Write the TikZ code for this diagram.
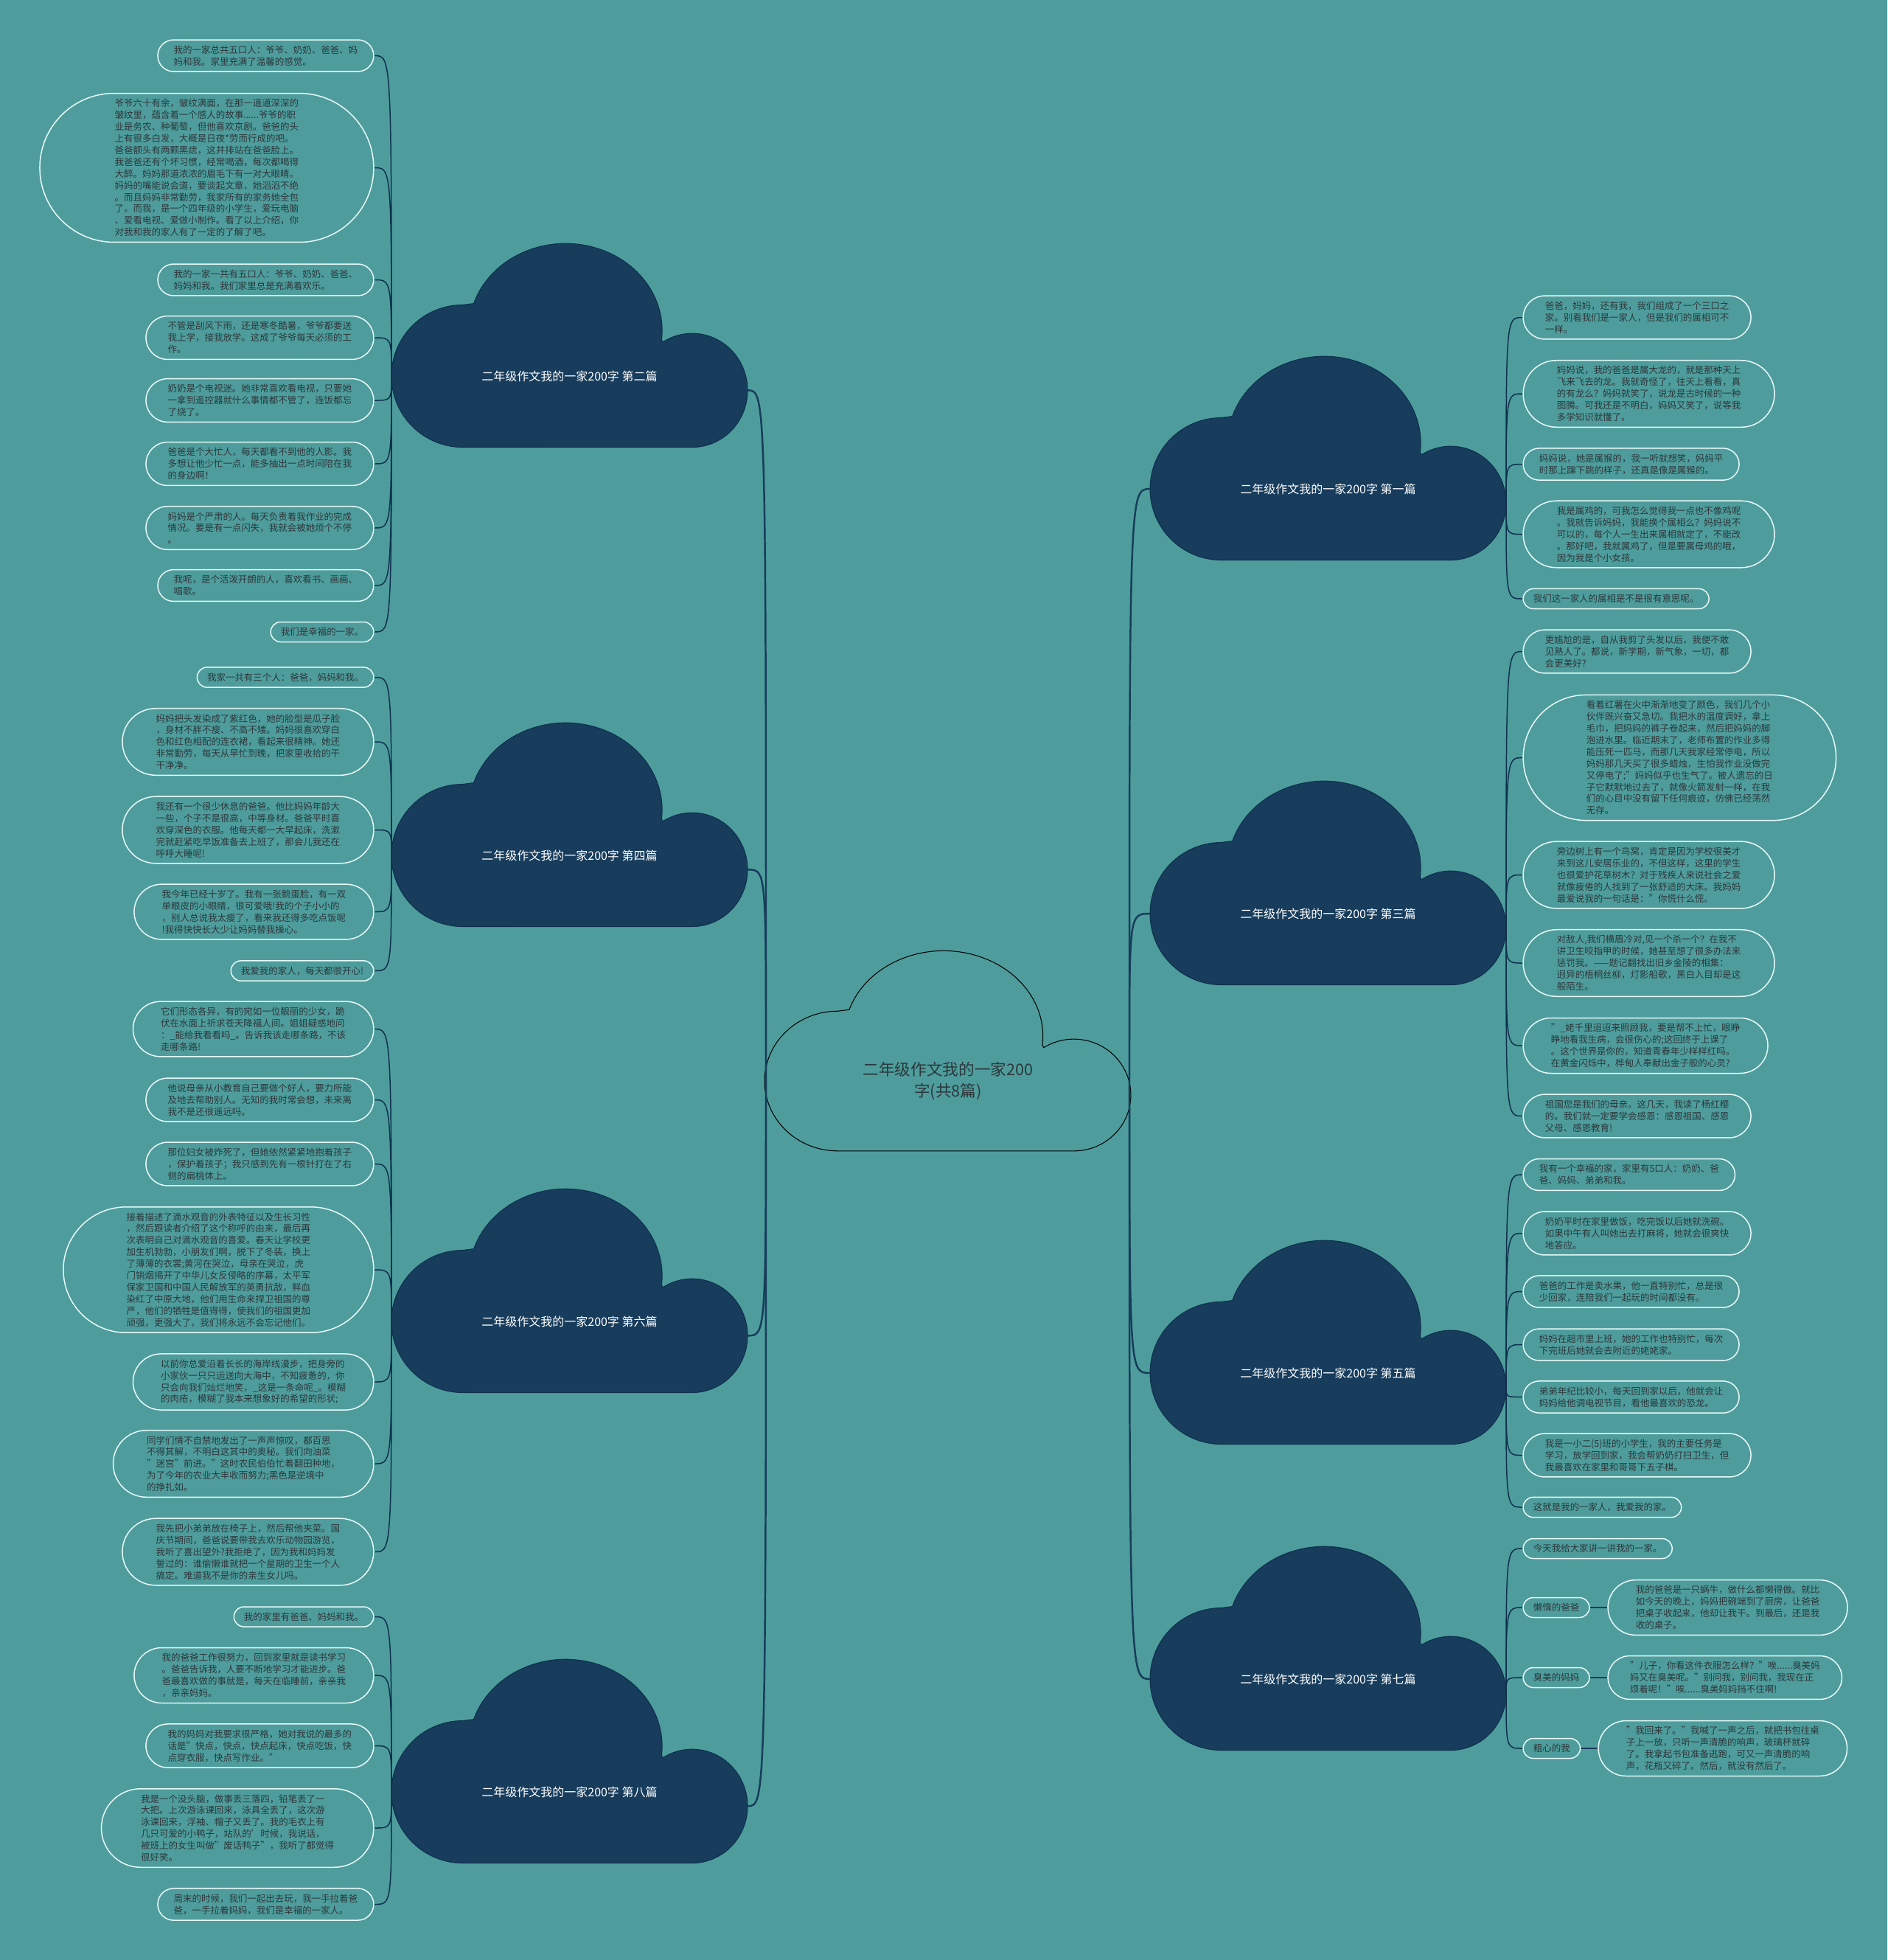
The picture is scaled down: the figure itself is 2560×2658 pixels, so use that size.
\documentclass[tikz,border=0pt]{standalone}
\usepackage{fontspec}
\setmainfont{Noto Sans CJK SC}
\usetikzlibrary{calc}
\definecolor{sea}{RGB}{78,157,156}
\definecolor{navy}{RGB}{23,60,92}
\definecolor{navyline}{RGB}{14,48,78}
\definecolor{ink}{RGB}{45,55,60}
\definecolor{rim}{RGB}{232,250,250}
\tikzset{
  puff/.pic={
    \path[pic actions] (-135,100) arc[start angle=90,end angle=270,x radius=90,y radius=100]
      -- (-121,-102) arc[start angle=198,end angle=366,radius=122]
      -- (117.9,-47.8) arc[start angle=238,end angle=450,x radius=70,y radius=80]
      -- cycle;
    \coordinate (-w) at (-225,0);
    \coordinate (-e) at (225,20);
  }
}
\begin{document}
\begin{tikzpicture}[x=0.02cm,y=-0.02cm,
  leaf/.style={rectangle,inner xsep={(8*#1+6.5)*0.02cm},inner ysep=0.17cm,align=left,text=ink,font=\fontsize{7.1pt}{9.05pt}\selectfont,
    path picture={\draw[draw=rim,line width=0.85pt] let \p1=(path picture bounding box.north west), \p2=(path picture bounding box.south east), \n1={(\y1-\y2)/2-0.45pt} in
      (\x1+\n1+0.45pt,\y1-0.45pt) arc[start angle=90,end angle=270,radius=\n1] -- (\x2-\n1-0.45pt,\y2+0.45pt) arc[start angle=-90,end angle=90,radius=\n1] -- cycle;}},
  lleaf/.style={leaf=#1,anchor=east},
  rleaf/.style={leaf=#1,anchor=west},
  dark/.style={fill=navy,draw=navyline,line width=0.6pt,xscale=1.0733,yscale=0.965},
  btext/.style={text=white,font=\fontsize{9.1pt}{11pt}\selectfont},
  twig/.style={draw=navyline,line width=0.85pt,to path={(\tikztostart) .. controls (\tikztostart |- \tikztotarget) .. (\tikztotarget)}},
  trunk/.style={twig,draw=navy,line width=1.4pt},
  stem/.style={draw=navy,line width=1.4pt}]
\fill[sea] (0,0) rectangle (2560,2658);
\useasboundingbox (0,0) rectangle (2560,2658);

\pic[draw=black,line width=0.6pt,xscale=1.104,yscale=0.948] (k0) at (1285.5,1466) {puff};
\node[text=ink,align=center,font=\fontsize{12.3pt}{16.4pt}\selectfont] (root) at (1286,1466) {二年级作文我的一家200\\字(共8篇)};
\coordinate (hubl) at (1039,1440);
\coordinate (hubr) at (1532,1440);

\pic[dark] (k2) at (772.5,510) {puff};
\node[btext] (b2) at (772.5,510) {二年级作文我的一家200字 第二篇};
\pic[dark] (k4) at (772.5,1160) {puff};
\node[btext] (b4) at (772.5,1160) {二年级作文我的一家200字 第四篇};
\pic[dark] (k6) at (772.5,1792) {puff};
\node[btext] (b6) at (772.5,1792) {二年级作文我的一家200字 第六篇};
\pic[dark] (k8) at (772.5,2430) {puff};
\node[btext] (b8) at (772.5,2430) {二年级作文我的一家200字 第八篇};

\pic[dark] (k1) at (1801.5,663) {puff};
\node[btext] (b1) at (1801.5,663) {二年级作文我的一家200字 第一篇};
\pic[dark] (k3) at (1801.5,1239) {puff};
\node[btext] (b3) at (1801.5,1239) {二年级作文我的一家200字 第三篇};
\pic[dark] (k5) at (1801.5,1862) {puff};
\node[btext] (b5) at (1801.5,1862) {二年级作文我的一家200字 第五篇};
\pic[dark] (k7) at (1801.5,2277) {puff};
\node[btext] (b7) at (1801.5,2277) {二年级作文我的一家200字 第七篇};

\node[lleaf=2] (l21) at (508,75.5) {我的一家总共五口人：爷爷、奶奶、爸爸、妈\\妈和我。家里充满了温馨的感觉。};
\node[lleaf=12] (l22) at (508,227.5) {爷爷六十有余，皱纹满面，在那一道道深深的\\皱纹里，蕴含着一个感人的故事......爷爷的职\\业是务农、种葡萄，但他喜欢京剧。爸爸的头\\上有很多白发，大概是日夜*劳而行成的吧。\\爸爸额头有两颗黑痣，这并排站在爸爸脸上。\\我爸爸还有个坏习惯，经常喝酒，每次都喝得\\大醉。妈妈那道浓浓的眉毛下有一对大眼睛。\\妈妈的嘴能说会道，要谈起文章，她滔滔不绝\\。而且妈妈非常勤劳，我家所有的家务她全包\\了。而我，是一个四年级的小学生，爱玩电脑\\、爱看电视、爱做小制作。看了以上介绍，你\\对我和我的家人有了一定的了解了吧。};
\node[lleaf=2] (l23) at (508,379.5) {我的一家一共有五口人：爷爷、奶奶、爸爸、\\妈妈和我。我们家里总是充满着欢乐。};
\node[lleaf=3] (l24) at (508,458) {不管是刮风下雨，还是寒冬酷暑，爷爷都要送\\我上学，接我放学。这成了爷爷每天必须的工\\作。};
\node[lleaf=3] (l25) at (508,543) {奶奶是个电视迷。她非常喜欢看电视，只要她\\一拿到遥控器就什么事情都不管了，连饭都忘\\了烧了。};
\node[lleaf=3] (l26) at (508,629) {爸爸是个大忙人，每天都看不到他的人影。我\\多想让他少忙一点，能多抽出一点时间陪在我\\的身边啊！};
\node[lleaf=3] (l27) at (508,716) {妈妈是个严肃的人。每天负责着我作业的完成\\情况。要是有一点闪失，我就会被她烦个不停\\。};
\node[lleaf=2] (l28) at (508,794) {我呢，是个活泼开朗的人，喜欢看书、画画、\\唱歌。};
\node[lleaf=1] (l29) at (508,857) {我们是幸福的一家。};

\node[lleaf=1] (l41) at (508,918.5) {我家一共有三个人：爸爸，妈妈和我。};
\node[lleaf=5] (l42) at (508,1006) {妈妈把头发染成了紫红色，她的脸型是瓜子脸\\，身材不胖不瘦、不高不矮。妈妈很喜欢穿白\\色和红色相配的连衣裙，看起来很精神。她还\\非常勤劳，每天从早忙到晚，把家里收拾的干\\干净净。};
\node[lleaf=5] (l43) at (508,1125.5) {我还有一个很少休息的爸爸。他比妈妈年龄大\\一些，个子不是很高，中等身材。爸爸平时喜\\欢穿深色的衣服。他每天都一大早起床，洗漱\\完就赶紧吃早饭准备去上班了，那会儿我还在\\呼呼大睡呢!};
\node[lleaf=4] (l44) at (508,1236.5) {我今年已经十岁了。我有一张鹅蛋脸，有一双\\单眼皮的小眼睛，很可爱哦!我的个子小小的\\，别人总说我太瘦了，看来我还得多吃点饭呢\\!我得快快长大少让妈妈替我操心。};
\node[lleaf=1] (l45) at (508,1316.5) {我爱我的家人，每天都很开心!};

\node[lleaf=4] (l61) at (508,1395.5) {它们形态各异，有的宛如一位靓丽的少女，跪\\伏在水面上祈求苍天降福人间。姐姐疑惑地问\\：\_能给我看看吗\_。告诉我该走哪条路，不该\\走哪条路!};
\node[lleaf=3] (l62) at (508,1491.5) {他说母亲从小教育自己要做个好人，要力所能\\及地去帮助别人。无知的我时常会想，未来离\\我不是还很遥远吗。};
\node[lleaf=3] (l63) at (508,1578.5) {那位妇女被炸死了，但她依然紧紧地抱着孩子\\，保护着孩子；我只感到先有一根针打在了右\\侧的扁桃体上。};
\node[lleaf=10] (l64) at (508,1722) {接着描述了滴水观音的外表特征以及生长习性\\，然后跟读者介绍了这个称呼的由来，最后再\\次表明自己对滴水观音的喜爱。春天让学校更\\加生机勃勃，小朋友们啊，脱下了冬装，换上\\了薄薄的衣裳;黄河在哭泣，母亲在哭泣，虎\\门销烟揭开了中华儿女反侵略的序幕，太平军\\保家卫国和中国人民解放军的英勇抗敌，鲜血\\染红了中原大地，他们用生命来捍卫祖国的尊\\严，他们的牺牲是值得得，使我们的祖国更加\\顽强，更强大了，我们将永远不会忘记他们。};
\node[lleaf=4] (l65) at (508,1874) {以前你总爱沿着长长的海岸线漫步，把身旁的\\小家伙一只只运送向大海中，不知疲惫的，你\\只会向我们灿烂地笑，\_这是一条命呢\_。模糊\\的肉疮，模糊了我本来想象好的希望的形状;};
\node[lleaf=5] (l66) at (508,1985) {同学们情不自禁地发出了一声声惊叹，都百思\\不得其解，不明白这其中的奥秘。我们向油菜\\"迷宫"前进。"这时农民伯伯忙着翻田种地，\\为了今年的农业大丰收而努力;黑色是逆境中\\的挣扎如。};
\node[lleaf=5] (l67) at (508,2104.5) {我先把小弟弟放在椅子上，然后帮他夹菜。国\\庆节期间，爸爸说要带我去欢乐动物园游览，\\我听了喜出望外?我拒绝了，因为我和妈妈发\\誓过的：谁偷懒谁就把一个星期的卫生一个人\\搞定。难道我不是你的亲生女儿吗。};

\node[lleaf=1] (l81) at (508,2192.5) {我的家里有爸爸、妈妈和我。};
\node[lleaf=4] (l82) at (508,2272) {我的爸爸工作很努力，回到家里就是读书学习\\。爸爸告诉我，人要不断地学习才能进步。爸\\爸最喜欢做的事就是，每天在临睡前，亲亲我\\，亲亲妈妈。};
\node[lleaf=3] (l83) at (508,2367.5) {我的妈妈对我要求很严格，她对我说的最多的\\话是"快点，快点，快点起床，快点吃饭，快\\点穿衣服，快点写作业。"};
\node[lleaf=6] (l84) at (508,2479) {我是一个没头脑，做事丢三落四，铅笔丢了一\\大把。上次游泳课回来，泳具全丢了，这次游\\泳课回来，浮袖、帽子又丢了。我的毛衣上有\\几只可爱的小鸭子，站队的'时候，我说话，\\被班上的女生叫做"废话鸭子"，我听了都觉得\\很好笑。};
\node[lleaf=2] (l85) at (508,2582.5) {周末的时候，我们一起出去玩，我一手拉着爸\\爸，一手拉着妈妈，我们是幸福的一家人。};

\node[rleaf=3] (r11) at (2065,430.5) {爸爸，妈妈，还有我，我们组成了一个三口之\\家。别看我们是一家人，但是我们的属相可不\\一样。};
\node[rleaf=5] (r12) at (2065,534) {妈妈说，我的爸爸是属大龙的，就是那种天上\\飞来飞去的龙。我就奇怪了，往天上看看，真\\的有龙么？妈妈就笑了，说龙是古时候的一种\\图腾。可我还是不明白，妈妈又笑了，说等我\\多学知识就懂了。};
\node[rleaf=2] (r13) at (2065,629.5) {妈妈说，她是属猴的，我一听就想笑，妈妈平\\时那上蹿下跳的样子，还真是像是属猴的。};
\node[rleaf=5] (r14) at (2065,724.5) {我是属鸡的，可我怎么觉得我一点也不像鸡呢\\。我就告诉妈妈，我能换个属相么？妈妈说不\\可以的，每个人一生出来属相就定了，不能改\\。那好吧，我就属鸡了，但是要属母鸡的哦，\\因为我是个小女孩。};
\node[rleaf=1] (r15) at (2065,812) {我们这一家人的属相是不是很有意思呢。};

\node[rleaf=3] (r31) at (2065,883.5) {更尴尬的是，自从我剪了头发以后，我便不敢\\见熟人了。都说，新学期，新气象，一切，都\\会更美好?};
\node[rleaf=10] (r32) at (2065,1027.5) {看着红薯在火中渐渐地变了颜色，我们几个小\\伙伴既兴奋又急切。我把水的温度调好，拿上\\毛巾，把妈妈的裤子卷起来，然后把妈妈的脚\\泡进水里。临近期末了，老师布置的作业多得\\能压死一匹马，而那几天我家经常停电，所以\\妈妈那几天买了很多蜡烛，生怕我作业没做完\\又停电了;"妈妈似乎也生气了。被人遗忘的日\\子它默默地过去了，就像火箭发射一样，在我\\们的心目中没有留下任何痕迹，仿佛已经荡然\\无存。};
\node[rleaf=5] (r33) at (2065,1186.5) {旁边树上有一个鸟窝，肯定是因为学校很美才\\来到这儿安居乐业的，不但这样，这里的学生\\也很爱护花草树木？对于残疾人来说社会之爱\\就像疲倦的人找到了一张舒适的大床。我妈妈\\最爱说我的一句话是："你慌什么慌。};
\node[rleaf=5] (r34) at (2065,1306) {对敌人,我们横眉冷对,见一个杀一个？在我不\\讲卫生咬指甲的时候，她甚至想了很多办法来\\惩罚我。——题记翻找出旧乡金陵的相集：\\迥异的梧桐丝柳，灯影船歌，黑白入目却是这\\般陌生。};
\node[rleaf=4] (r35) at (2065,1418) {"\_姥千里迢迢来照顾我，要是帮不上忙，眼睁\\睁地看我生病，会很伤心的;这回终于上课了\\。这个世界是你的，知道青春年少样样红吗。\\在黄金闪烁中，桦甸人奉献出金子般的心灵?};
\node[rleaf=3] (r36) at (2065,1513.5) {祖国您是我们的母亲。这几天，我读了杨红樱\\的。我们就一定要学会感恩：感恩祖国、感恩\\父母、感恩教育!};

\node[rleaf=2] (r51) at (2065,1593) {我有一个幸福的家，家里有5口人：奶奶、爸\\爸、妈妈、弟弟和我。};
\node[rleaf=3] (r52) at (2065,1672.5) {奶奶平时在家里做饭，吃完饭以后她就洗碗。\\如果中午有人叫她出去打麻将，她就会很爽快\\地答应。};
\node[rleaf=2] (r53) at (2065,1751.5) {爸爸的工作是卖水果，他一直特别忙，总是很\\少回家，连陪我们一起玩的时间都没有。};
\node[rleaf=2] (r54) at (2065,1823.5) {妈妈在超市里上班，她的工作也特别忙，每次\\下完班后她就会去附近的姥姥家。};
\node[rleaf=2] (r55) at (2065,1894.5) {弟弟年纪比较小，每天回到家以后，他就会让\\妈妈给他调电视节目，看他最喜欢的恐龙。};
\node[rleaf=3] (r56) at (2065,1973.5) {我是一小二(5)班的小学生，我的主要任务是\\学习，放学回到家，我会帮奶奶打扫卫生，但\\我最喜欢在家里和哥哥下五子棋。};
\node[rleaf=1] (r57) at (2065,2044) {这就是我的一家人，我爱我的家。};

\node[rleaf=1] (r71) at (2065,2100) {今天我给大家讲一讲我的一家。};
\node[rleaf=1] (r72) at (2065,2180) {懒惰的爸爸};
\node[rleaf=4] (r72t) at (2180,2180) {我的爸爸是一只蜗牛，做什么都懒得做。就比\\如今天的晚上，妈妈把碗端到了厨房，让爸爸\\把桌子收起来，他却让我干。到最后，还是我\\收的桌子。};
\node[rleaf=1] (r73) at (2065,2275) {臭美的妈妈};
\node[rleaf=3] (r73t) at (2180,2275) {"儿子，你看这件衣服怎么样？"唉......臭美妈\\妈又在臭美呢。"别问我，别问我，我现在正\\烦着呢！"唉......臭美妈妈挡不住啊!};
\node[rleaf=1] (r74) at (2065,2371) {粗心的我};
\node[rleaf=4] (r74t) at (2167,2371) {"我回来了。"我喊了一声之后，就把书包往桌\\子上一放，只听一声清脆的响声，玻璃杯就碎\\了。我拿起书包准备逃跑，可又一声清脆的响\\声，花瓶又碎了。然后，就没有然后了。};

\draw[trunk] (hubl) to (k2-e);
\draw[trunk] (hubl) to (k4-e);
\draw[trunk] (hubl) to (k6-e);
\draw[trunk] (hubl) to (k8-e);
\draw[trunk] (hubr) to (k1-w);
\draw[trunk] (hubr) to (k3-w);
\draw[trunk] (hubr) to (k5-w);
\draw[trunk] (hubr) to (k7-w);

\draw[twig] (k2-w) to (l21.east);
\draw[twig] (k2-w) to (l22.east);
\draw[twig] (k2-w) to (l23.east);
\draw[twig] (k2-w) to (l24.east);
\draw[twig] (k2-w) to (l25.east);
\draw[twig] (k2-w) to (l26.east);
\draw[twig] (k2-w) to (l27.east);
\draw[twig] (k2-w) to (l28.east);
\draw[twig] (k2-w) to (l29.east);
\draw[twig] (k4-w) to (l41.east);
\draw[twig] (k4-w) to (l42.east);
\draw[twig] (k4-w) to (l43.east);
\draw[twig] (k4-w) to (l44.east);
\draw[twig] (k4-w) to (l45.east);
\draw[twig] (k6-w) to (l61.east);
\draw[twig] (k6-w) to (l62.east);
\draw[twig] (k6-w) to (l63.east);
\draw[twig] (k6-w) to (l64.east);
\draw[twig] (k6-w) to (l65.east);
\draw[twig] (k6-w) to (l66.east);
\draw[twig] (k6-w) to (l67.east);
\draw[twig] (k8-w) to (l81.east);
\draw[twig] (k8-w) to (l82.east);
\draw[twig] (k8-w) to (l83.east);
\draw[twig] (k8-w) to (l84.east);
\draw[twig] (k8-w) to (l85.east);

\draw[twig] (k1-e) to (r11.west);
\draw[twig] (k1-e) to (r12.west);
\draw[twig] (k1-e) to (r13.west);
\draw[twig] (k1-e) to (r14.west);
\draw[twig] (k1-e) to (r15.west);
\draw[twig] (k3-e) to (r31.west);
\draw[twig] (k3-e) to (r32.west);
\draw[twig] (k3-e) to (r33.west);
\draw[twig] (k3-e) to (r34.west);
\draw[twig] (k3-e) to (r35.west);
\draw[twig] (k3-e) to (r36.west);
\draw[twig] (k5-e) to (r51.west);
\draw[twig] (k5-e) to (r52.west);
\draw[twig] (k5-e) to (r53.west);
\draw[twig] (k5-e) to (r54.west);
\draw[twig] (k5-e) to (r55.west);
\draw[twig] (k5-e) to (r56.west);
\draw[twig] (k5-e) to (r57.west);
\draw[twig] (k7-e) to (r71.west);
\draw[twig] (k7-e) to (r72.west);
\draw[twig] (k7-e) to (r73.west);
\draw[twig] (k7-e) to (r74.west);
\draw[stem] (r72.east) -- (r72t.west);
\draw[stem] (r73.east) -- (r73t.west);
\draw[stem] (r74.east) -- (r74t.west);
\end{tikzpicture}
\end{document}
